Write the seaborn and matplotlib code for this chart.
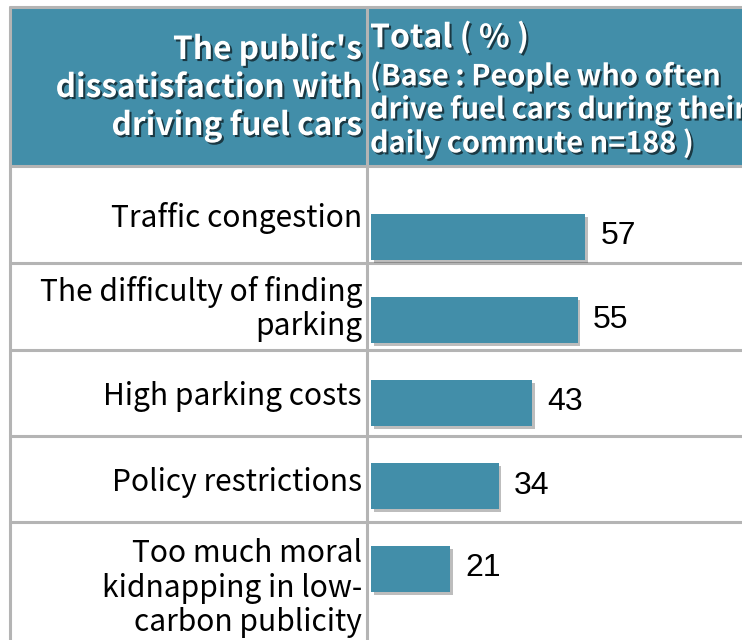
import matplotlib
matplotlib.use("Agg")
import matplotlib.pyplot as plt
import matplotlib.patheffects as pe
from matplotlib.patches import Rectangle
import seaborn as sns
import pandas as pd

# data
categories = [
    "Traffic congestion",
    "The difficulty of finding\nparking",
    "High parking costs",
    "Policy restrictions",
    "Too much moral\nkidnapping in low-\ncarbon publicity",
]
values = [57, 55, 43, 34, 21]
header_left = "The public's\ndissatisfaction with\ndriving fuel cars"
header_title = "Total ( % )"
header_sub = "(Base : People who often\ndrive fuel cars during their\ndaily commute n=188 )"

W, H = 742, 640
TEAL = "#428ea9"
GRID = "#b4b4b4"

sns.set_theme(style="white")
plt.rcParams['font.family'] = ['Noto Sans CJK SC', 'DejaVu Sans']

fig = plt.figure(figsize=(W / 100, H / 100), dpi=100)

# table frame in pixel coordinates
bg = fig.add_axes([0, 0, 1, 1])
bg.set_xlim(0, W)
bg.set_ylim(H, 0)
bg.axis('off')

col_left, col_mid, col_right = 10, 367, W + 20
row_edges = [7, 166, 263, 350, 436, 522, 648]

bg.add_patch(Rectangle((col_left, row_edges[0]), col_right - col_left,
                       row_edges[1] - row_edges[0], color=TEAL, zorder=0))
for y in row_edges[:-1]:
    bg.plot([col_left, col_right], [y, y], color=GRID, lw=2.2, zorder=1)
for x in (col_left, col_mid):
    bg.plot([x, x], [row_edges[0], H + 10], color=GRID, lw=2.2, zorder=1)

shadow = [pe.SimplePatchShadow(offset=(1.5, -1.5), shadow_rgbFace='black', alpha=0.6), pe.Normal()]

# header texts
left_lines = header_left.split("\n")
hl_center, hl_step = 88, 38
for i, line in enumerate(left_lines):
    y = hl_center + (i - (len(left_lines) - 1) / 2) * hl_step
    bg.text(362, y, line, ha='right', va='center', color='white', fontsize=22.8,
            fontweight='bold', path_effects=shadow)

bg.text(370, 38, header_title, ha='left', va='center', color='white', fontsize=23,
        fontweight='bold', path_effects=shadow)
for i, line in enumerate(header_sub.split("\n")):
    bg.text(370, 76 + i * 33.5, line, ha='left', va='center', color='white', fontsize=20.8,
            fontweight='bold', path_effects=shadow)

# row labels
for i, cat in enumerate(categories):
    lines = cat.split("\n")
    center = (row_edges[i + 1] + row_edges[i + 2]) / 2 + 3
    for j, line in enumerate(lines):
        y = center + (j - (len(lines) - 1) / 2) * 34
        bg.text(362, y, line, ha='right', va='center', color='black', fontsize=21.6)

# bars
px_per_unit = 3.755
x0_px, bar_top_px, bar_step = 371, 236.5, 83
ax = fig.add_axes([x0_px / W, 0, (W - x0_px) / W, (H - 166) / H])
df = pd.DataFrame({"category": categories, "value": values})
sns.barplot(data=df, x="value", y="category", orient="h", color=TEAL,
            saturation=1, width=46 / bar_step, ax=ax, zorder=3)
ax.set_xlim(0, (W - x0_px) / px_per_unit)
ax.set_ylim((H - bar_top_px) / bar_step, (166 - bar_top_px) / bar_step)
ax.set_facecolor('none')
for s in ax.spines.values():
    s.set_visible(False)
ax.set_xticks([])
ax.set_yticks([])
ax.set_xlabel("")
ax.set_ylabel("")
for p in ax.patches:
    p.set_edgecolor('none')
    p.set_path_effects([pe.SimplePatchShadow(offset=(2, -2.5), shadow_rgbFace='#444444',
                                             alpha=0.35), pe.Normal()])
ax.bar_label(ax.containers[0], fmt='%d', padding=11, fontsize=23,
             family='Liberation Sans', color='black')

fig.savefig("out.png", dpi=100)
